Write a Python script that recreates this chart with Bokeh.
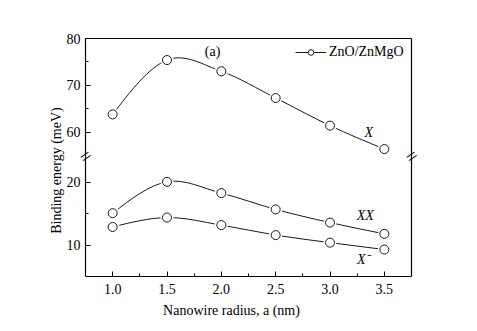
import numpy as np
from bokeh.plotting import figure
from bokeh.models import (Range1d, LinearAxis, FixedTicker, Label, Legend, LegendItem,
                          PrintfTickFormatter)
from bokeh.embed import file_html
from bokeh.resources import INLINE

# ---- data ----
radius = [1.0, 1.5, 2.0, 2.5, 3.0, 3.5]
eb_exciton = [63.8, 75.4, 73.0, 67.3, 61.4, 56.4]   # X
eb_biexciton = [15.1, 20.1, 18.3, 15.7, 13.6, 11.8]  # XX
eb_trion = [12.9, 14.4, 13.2, 11.6, 10.4, 9.3]       # X-
x_ticks = [1.0, 1.5, 2.0, 2.5, 3.0, 3.5]
x_minor = [1.25, 1.75, 2.25, 2.75, 3.25]
upper_ticks = [60, 70, 80]
upper_minor = [65, 75]
lower_ticks = [10, 20]
lower_minor = [15]
series_name = "ZnO/ZnMgO"

FONT = "Liberation Serif"
INK = "#1a1a1a"

# ---- geometry ----
X_AX = (0.75, 3.75)          # where the box's left/right lines sit
AX_PX = 326                  # pixels between them
PAD_L, PAD_R = 41, 7         # frame extends beyond the box (room for tick labels / breaks)
px_per_u = AX_PX / (X_AX[1] - X_AX[0])
XR = (X_AX[0] - PAD_L / px_per_u, X_AX[1] + PAD_R / px_per_u)
FRAME_W = AX_PX + PAD_L + PAD_R
BOX_TOP, BOX_BOT = 38, 276   # box top / bottom line (canvas px)
PAD_T = 10                   # frame extends above the box (room for the top tick label)
LEFT_B, RIGHT_B, BOT_B = 44, 12, 48
TOP_B = BOX_TOP - PAD_T
FRAME_H = BOX_BOT - TOP_B
MAIN_W = LEFT_B + FRAME_W + RIGHT_B
MAIN_H = TOP_B + FRAME_H + BOT_B

LOWER_PX = 6.27              # px per meV in the lower part
UPPER_PX = 4.685             # px per meV in the upper part
Y_TOP = 80.0
LOWER_YR = (5.0, 5.0 + FRAME_H / LOWER_PX)
UPPER_YR = (Y_TOP - (BOX_BOT - BOX_TOP) / UPPER_PX, Y_TOP + PAD_T / UPPER_PX)
LOWER_TOP = 24.2             # break, lower scale
UPPER_BOT = 54.8             # break, upper scale


def bezier_segments(xs, ys):
    xs = np.asarray(xs, float)
    ys = np.asarray(ys, float)
    n = len(xs)
    m = np.zeros(n)
    for i in range(1, n - 1):
        m[i] = (ys[i + 1] - ys[i - 1]) / (xs[i + 1] - xs[i - 1])
    s0 = (ys[1] - ys[0]) / (xs[1] - xs[0])
    s1 = (ys[-1] - ys[-2]) / (xs[-1] - xs[-2])
    m[0] = (3 * s0 - m[1]) / 2
    m[-1] = (3 * s1 - m[-2]) / 2
    h = np.diff(xs)
    return dict(x0=xs[:-1], y0=ys[:-1], x1=xs[1:], y1=ys[1:],
                cx0=xs[:-1] + h / 3, cy0=ys[:-1] + m[:-1] * h / 3,
                cx1=xs[1:] - h / 3, cy1=ys[1:] - m[1:] * h / 3)


def draw_series(fig, xs, ys, **kw):
    small = fig.scatter(xs, ys, size=5, fill_color="white", line_color=INK, **kw)
    curve = fig.bezier(**bezier_segments(xs, ys), line_color=INK, line_width=1, **kw)
    fig.scatter(xs, ys, size=13, fill_color="white", line_color=None, **kw)
    fig.scatter(xs, ys, size=9, fill_color="white", line_color=INK, line_width=1, **kw)
    return curve, small


def tick_axis(ticks, minor, **kw):
    ax = LinearAxis(ticker=FixedTicker(ticks=ticks, minor_ticks=minor), **kw)
    ax.axis_line_color = "black"
    ax.axis_line_width = 1.2
    ax.major_tick_in = 5
    ax.major_tick_out = 0
    ax.minor_tick_in = 3
    ax.minor_tick_out = 0
    ax.major_tick_line_color = "black"
    ax.minor_tick_line_color = "black"
    ax.major_label_text_font = FONT
    ax.major_label_text_font_size = "14px"
    ax.major_label_text_color = "black"
    ax.major_label_standoff = 5
    return ax


def bare_axis(**kw):
    return LinearAxis(ticker=FixedTicker(ticks=[]), axis_line_color="black", axis_line_width=1.2,
                      major_tick_line_color=None, minor_tick_line_color=None,
                      major_label_standoff=0, major_tick_out=0, major_tick_in=0, **kw)


p = figure(width=MAIN_W, height=MAIN_H, x_range=Range1d(*XR), y_range=Range1d(*LOWER_YR),
           output_backend="svg", toolbar_location=None, title=None,
           x_axis_location=None, y_axis_location=None,
           min_border_left=LEFT_B, min_border_right=RIGHT_B,
           min_border_top=TOP_B, min_border_bottom=BOT_B)
p.extra_y_ranges = {"upper": Range1d(*UPPER_YR)}
p.outline_line_color = None
p.grid.visible = False

# broken y axis: two pieces pinned at the box's left edge
low_ax = tick_axis(lower_ticks, lower_minor, bounds=(LOWER_YR[0], LOWER_TOP),
                   fixed_location=X_AX[0])
up_ax = tick_axis(upper_ticks, upper_minor, y_range_name="upper", bounds=(UPPER_BOT, Y_TOP),
                  fixed_location=X_AX[0])
p.add_layout(low_ax, "left")
p.add_layout(up_ax, "left")

# x axis + box lines
x_ax = tick_axis(x_ticks, x_minor, bounds=X_AX)
x_ax.formatter = PrintfTickFormatter(format="%.1f")
x_ax.major_label_standoff = 7
x_ax.axis_label = "Nanowire radius, a (nm)"
x_ax.axis_label_standoff = 6
x_ax.axis_label_text_font = FONT
x_ax.axis_label_text_font_size = "14px"
x_ax.axis_label_text_font_style = "normal"
x_ax.axis_label_text_color = "black"
p.add_layout(x_ax, "below")
p.add_layout(bare_axis(bounds=X_AX, y_range_name="upper", fixed_location=Y_TOP), "above")
p.add_layout(bare_axis(y_range_name="upper", bounds=(UPPER_YR[0], Y_TOP),
                       fixed_location=X_AX[1]), "right")

# series
x_curve, x_small = draw_series(p, radius, eb_exciton, y_range_name="upper")
draw_series(p, radius, eb_biexciton)
draw_series(p, radius, eb_trion)

# legend (location: offset of its lower-left corner from the frame's lower-left)
legend = Legend(items=[LegendItem(label=series_name, renderers=[x_curve, x_small])],
                location=(PAD_L + 210, BOX_BOT - 60), border_line_color=None,
                background_fill_alpha=0, margin=0, padding=0, glyph_width=31, glyph_height=14,
                label_height=14, label_standoff=3, spacing=0, label_text_font=FONT,
                label_text_font_size="14px", label_text_color="black")
p.add_layout(legend)

txt = dict(text_align="center", text_baseline="middle", text_font=FONT,
           text_font_size="14px", text_color="black")
p.add_layout(Label(x=1.92, y=77.2, y_range_name="upper", text="(a)", **txt))
p.add_layout(Label(x=3.356, y=60.0, y_range_name="upper", text="X", text_font_style="italic", **txt))
p.add_layout(Label(x=3.325, y=14.8, text="XX", text_font_style="italic", **txt))
p.add_layout(Label(x=3.31, y=7.7, text="X\u207b", text_font_style="italic", **txt))

# y-axis title, spanning both parts
label_center_val = Y_TOP - (170 - BOX_TOP) / UPPER_PX
p.add_layout(Label(x=X_AX[0], x_offset=-29, y=label_center_val, y_range_name="upper",
                   text="Binding energy (meV)", angle=np.pi / 2, **txt))

# break marks on both box edges
for xv in X_AX:
    p.add_layout(Label(x=xv, y=LOWER_TOP, text="=", angle=0.6, text_align="center",
                       text_baseline="middle", text_font=FONT, text_font_size="20px",
                       text_color="black"))

open("out.html", "w").write(file_html(p, INLINE))
